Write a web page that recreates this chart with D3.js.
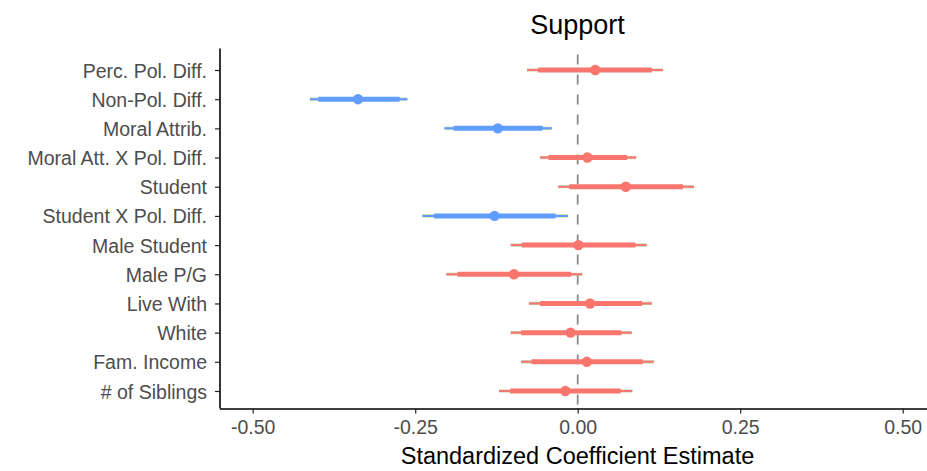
<!DOCTYPE html>
<html>
<head>
<meta charset="utf-8">
<script src="https://cdn.jsdelivr.net/npm/d3@7"></script>
<style>
  html, body { margin: 0; padding: 0; background: #ffffff; }
  svg { display: block; }
  text { font-family: "Liberation Sans", Arial, sans-serif; }
</style>
</head>
<body>
<svg id="chart" width="927" height="471"></svg>
<script>
// Predictors, top to bottom
const terms = [
  "Perc. Pol. Diff.",
  "Non-Pol. Diff.",
  "Moral Attrib.",
  "Moral Att. X Pol. Diff.",
  "Student",
  "Student X Pol. Diff.",
  "Male Student",
  "Male P/G",
  "Live With",
  "White",
  "Fam. Income",
  "# of Siblings"
];

// Standardized point estimates
const estimates = [0.027, -0.338, -0.123, 0.015, 0.074, -0.128, 0.001, -0.098, 0.019, -0.011, 0.014, -0.019];

// Inner interval (thick segment)
const innerLow  = [-0.061, -0.399, -0.191, -0.045, -0.013, -0.221, -0.086, -0.185, -0.058, -0.087, -0.071, -0.104];
const innerHigh = [ 0.114, -0.274, -0.054,  0.076,  0.162, -0.034,  0.089, -0.010,  0.099,  0.067,  0.100,  0.066];

// Outer interval (thin segment)
const outerLow  = [-0.078, -0.412, -0.205, -0.058, -0.030, -0.239, -0.103, -0.202, -0.075, -0.103, -0.087, -0.121];
const outerHigh = [ 0.131, -0.262, -0.040,  0.090,  0.179, -0.015,  0.106,  0.007,  0.114,  0.083,  0.117,  0.084];

// Effect direction group used for colour
const groups = ["pos", "neg", "neg", "pos", "pos", "neg", "pos", "pos", "pos", "pos", "pos", "pos"];

const xTicks = [-0.50, -0.25, 0.00, 0.25, 0.50];
const xTickLabels = ["-0.50", "-0.25", "0.00", "0.25", "0.50"];

const rows = terms.map((t, i) => ({
  term: t, est: estimates[i],
  lo1: innerLow[i], hi1: innerHigh[i],
  lo2: outerLow[i], hi2: outerHigh[i],
  group: groups[i]
}));

const svg = d3.select("#chart");

const panel = { left: 220, right: 935, top: 52.5, bottom: 408.5 };

const x = d3.scaleLinear().domain([-0.55, 0.55]).range([panel.left + 0.2, panel.right + 0.2]);
const y = d3.scalePoint().domain(terms).range([panel.top, panel.bottom]).padding(0.6);
const color = d3.scaleOrdinal().domain(["pos", "neg"]).range(["#F8766D", "#619CFF"]);

// Reference line at zero
svg.append("line")
  .attr("x1", x(0)).attr("x2", x(0))
  .attr("y1", panel.top).attr("y2", panel.bottom)
  .attr("stroke", "#8a8a8a")
  .attr("stroke-width", 1.8)
  .attr("stroke-dasharray", "10,10")
  .attr("stroke-dashoffset", -2);

const g = svg.append("g");

// Outer intervals: soft halo beneath the coloured thin line
g.selectAll("line.outer-halo").data(rows).join("line")
  .attr("class", "outer-halo")
  .attr("x1", d => x(d.lo2)).attr("x2", d => x(d.hi2))
  .attr("y1", d => y(d.term)).attr("y2", d => y(d.term))
  .attr("stroke", "#a9bb8f")
  .attr("stroke-opacity", 0.7)
  .attr("stroke-width", 3.2);

g.selectAll("line.outer").data(rows).join("line")
  .attr("class", "outer")
  .attr("x1", d => x(d.lo2)).attr("x2", d => x(d.hi2))
  .attr("y1", d => y(d.term)).attr("y2", d => y(d.term))
  .attr("stroke", d => color(d.group))
  .attr("stroke-width", 2);

// Inner intervals
g.selectAll("line.inner").data(rows).join("line")
  .attr("class", "inner")
  .attr("x1", d => x(d.lo1)).attr("x2", d => x(d.hi1))
  .attr("y1", d => y(d.term)).attr("y2", d => y(d.term))
  .attr("stroke", d => color(d.group))
  .attr("stroke-width", 5);

// Point estimates
g.selectAll("circle.est").data(rows).join("circle")
  .attr("class", "est")
  .attr("cx", d => x(d.est))
  .attr("cy", d => y(d.term))
  .attr("r", 5.2)
  .attr("fill", d => color(d.group));

// Axes
const xAxis = svg.append("g")
  .attr("transform", `translate(0,${panel.bottom})`)
  .call(d3.axisBottom(x).tickValues(xTicks)
    .tickFormat((d, i) => xTickLabels[i])
    .tickSizeOuter(0).tickSizeInner(5).tickPadding(4));

const yAxis = svg.append("g")
  .attr("transform", `translate(${panel.left},0)`)
  .call(d3.axisLeft(y).tickSizeOuter(0).tickSizeInner(5).tickPadding(8));

[xAxis, yAxis].forEach(a => {
  a.select(".domain").attr("stroke", "#000").attr("stroke-width", 1.6);
  a.selectAll(".tick line").attr("stroke", "#222").attr("stroke-width", 1.2);
  a.selectAll(".tick text")
    .attr("fill", "#4D4D4D")
    .style("font-size", "19.5px")
    .style("font-family", "'Liberation Sans', Arial, sans-serif");
});
// Extend domains to the panel corners
xAxis.select(".domain").attr("d", `M${panel.left},0.5H${panel.right}`);
yAxis.select(".domain").attr("d", `M0,${panel.top - 4}V${panel.bottom}`);
xAxis.selectAll(".tick text").attr("dy", "0.85em");
yAxis.selectAll(".tick text").attr("dy", "0.36em");

// Title and axis title
svg.append("text")
  .attr("x", (panel.left + panel.right) / 2)
  .attr("y", 33.5)
  .attr("text-anchor", "middle")
  .attr("fill", "#000")
  .style("font-size", "27px")
  .text("Support");

svg.append("text")
  .attr("x", (panel.left + panel.right) / 2)
  .attr("y", 464)
  .attr("text-anchor", "middle")
  .attr("fill", "#000")
  .style("font-size", "23.5px")
  .text("Standardized Coefficient Estimate");
</script>
</body>
</html>
